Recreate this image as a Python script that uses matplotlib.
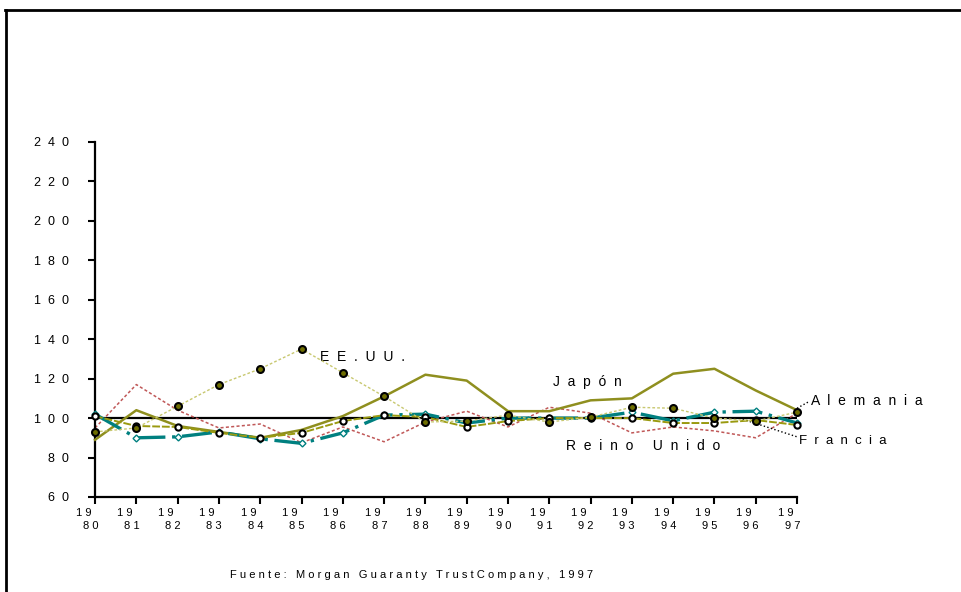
import numpy as np
import matplotlib
matplotlib.use('Agg')
import matplotlib.pyplot as plt
from matplotlib.lines import Line2D
from matplotlib.transforms import offset_copy

plt.rcParams['font.family'] = ['Liberation Sans', 'DejaVu Sans']

# Data (index, 1980 = 100)
years = list(range(1980, 1998))
eeuu = [93, 95, 106, 117, 125, 135, 123, 111, 98, 98.5, 101.5, 98, 100.5, 105.5, 105, 100, 98.5, 103]
japon = [89, 104, 96, 93, 90, 94, 101, 111, 122, 119, 103.5, 103.5, 109, 110, 122.5, 125, 114, 104]
alemania = [102, 90, 90.5, 93, 89.5, 87.2, 92.5, 101.5, 102, 97.5, 100, 100, 100, 103, 98.6, 103, 103.5, 97.5]
francia = [101, 96, 95.5, 92.5, 90, 92.5, 98.5, 101.5, 100.5, 95.5, 98.5, 100, 100, 100, 97.5, 97.5, 99, 96.5]
reino_unido = [95, 117, 104, 95, 97, 87.5, 95.5, 88, 98, 103.5, 95.5, 105.5, 102.5, 92.5, 95.5, 93.5, 90, 102.5]
y_ticks = [60, 80, 100, 120, 140, 160, 180, 200, 220, 240]


def spaced(s, gap='  '):
    # letter-spaced text like the original
    return gap.join(s)


fig = plt.figure(figsize=(9.61, 5.92), dpi=100)
ax = fig.add_axes([0.0989, 0.1605, 0.7305, 0.5997])

# reference line at 100
ax.axhline(100, color='black', lw=1.6, zorder=1)

ax.plot(years, reino_unido, color='#c05858', lw=1.1, ls=(0, (2, 1.5)), zorder=2, clip_on=False)
ax.plot(years, japon, color='#8f8f1f', lw=1.8, zorder=3, clip_on=False)
ax.plot(years, alemania, color='#008080', lw=2.4, ls=(0, (9, 2, 1, 2)), marker='D', ms=3.5,
        mfc='white', mec='#008080', mew=1, zorder=4, clip_on=False)
ax.plot(years, francia, color='#9a9a10', lw=1.4, ls=(0, (4, 1)), marker='o', ms=4.5,
        mfc='white', mec='black', mew=1.5, zorder=5, clip_on=False)
ax.plot(years, eeuu, color='#c8c870', lw=1.0, ls=(0, (2, 1.5)), marker='o', ms=5,
        mfc='#6e6e00', mec='black', mew=1.5, zorder=6, clip_on=False)

ax.set_xlim(1980, 1997)
ax.set_ylim(60, 240)
ax.set_yticks(y_ticks)
ax.set_yticklabels([spaced(str(v)) for v in y_ticks], fontsize=9)
ax.set_xticks(years)
ax.set_xticklabels([])
ax.tick_params(direction='out', length=5, width=1.5, color='black')
ax.tick_params(axis='y', pad=14)
for s in ['top', 'right']:
    ax.spines[s].set_visible(False)
for s in ['left', 'bottom']:
    ax.spines[s].set_linewidth(1.6)

# two-row year labels ("19" over "80")
xt = ax.get_xaxis_transform()
row1 = offset_copy(xt, fig=fig, x=-4, y=-16, units='dots')
row2 = offset_copy(xt, fig=fig, x=3, y=-29, units='dots')
for y in years:
    s = str(y)
    ax.text(y, 0, spaced(s[:2], ' '), transform=row1, fontsize=8, ha='right', va='center')
    ax.text(y, 0, spaced(s[2:], ' '), transform=row2, fontsize=8, ha='right', va='center')

# series labels
ax.text(1985.45, 131, spaced('EE.UU.'), fontsize=10, va='center', ha='left')
ax.text(1991.1, 118.3, spaced('Japón'), fontsize=10, va='center', ha='left')
ax.text(1997.33, 108.6, spaced('Alemania'), fontsize=10, va='center', ha='left', clip_on=False)
ax.text(1991.4, 85.8, spaced('Reino') + '     ' + spaced('Unido'), fontsize=10, va='center', ha='left')
ax.text(1997.05, 88.3, spaced('Francia'), fontsize=9.5, va='center', ha='left', clip_on=False)

# leader lines
ax.plot([1997.0, 1997.3], [105, 108.5], color='black', lw=1, ls=':', clip_on=False)
ax.plot([1995.6, 1997.0], [100, 90.5], color='black', lw=1, ls=':', clip_on=False)

# frame lines
fig.add_artist(Line2D([0.005, 1.0], [1 - 10 / 592, 1 - 10 / 592], color='black', lw=2))
fig.add_artist(Line2D([6 / 961, 6 / 961], [0.0, 1 - 10 / 592], color='black', lw=2))

fig.text(412 / 961, 1 - 575 / 592, spaced('Fuente:', ' ') + '   ' + spaced('Morgan', ' ') + '   '
         + spaced('Guaranty', ' ') + '   ' + spaced('Trust', ' ') + ' ' + spaced('Company,', ' ')
         + '   ' + spaced('1997', ' '),
         fontsize=8, ha='center', va='center')

plt.savefig('out.png', dpi=100)
